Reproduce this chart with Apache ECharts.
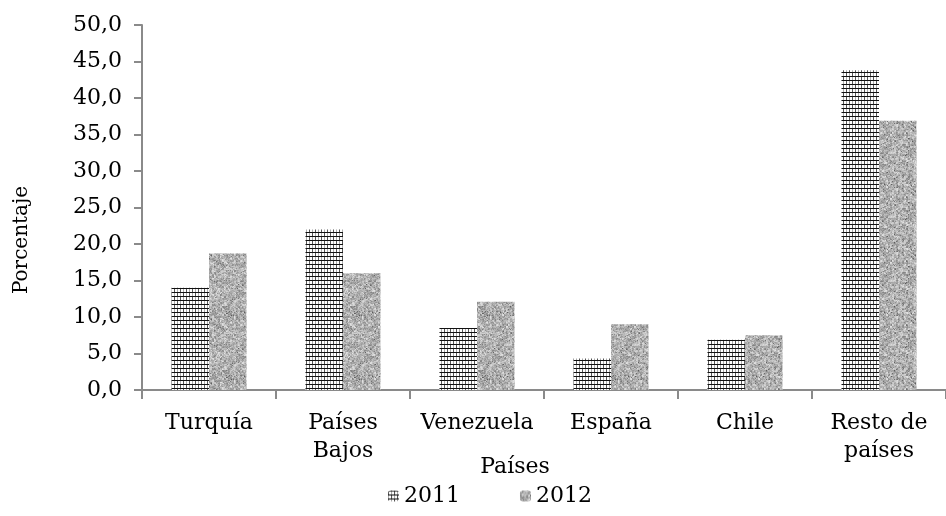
<!DOCTYPE html>
<html><head><meta charset="utf-8">
<script src="https://cdn.jsdelivr.net/npm/echarts@6/dist/echarts.min.js"></script>
<style>html,body{margin:0;padding:0;background:#fff}#c{width:946px;height:516px}</style>
</head><body><div id="c"></div>
<script>
const categories = ['Turquía', 'Países\nBajos', 'Venezuela', 'España', 'Chile', 'Resto de\npaíses'];
const values2011 = [14.0, 22.0, 8.5, 4.3, 6.9, 43.8];
const values2012 = [18.7, 16.0, 12.1, 9.0, 7.5, 36.9];
const yTicks = [0, 5, 10, 15, 20, 25, 30, 35, 40, 45, 50];

function brickPattern() {
  const c = document.createElement('canvas');
  c.width = 12; c.height = 8;
  const g = c.getContext('2d');
  g.fillStyle = '#fff'; g.fillRect(0, 0, 12, 8);
  g.fillStyle = '#111';
  g.fillRect(0, 0, 12, 1); g.fillRect(0, 4, 12, 1);
  g.fillStyle = '#555';
  g.fillRect(0, 1, 1, 3); g.fillRect(6, 1, 1, 3);
  g.fillRect(3, 5, 1, 3); g.fillRect(9, 5, 1, 3);
  g.fillStyle = '#aaa';
  g.fillRect(3, 1, 1, 3); g.fillRect(9, 1, 1, 3);
  g.fillRect(0, 5, 1, 3); g.fillRect(6, 5, 1, 3);
  return c;
}
function hash(i) { const x = Math.sin(i * 12.9898 + 78.233) * 43758.5453; return x - Math.floor(x); }
function noisePattern() {
  const n = 64;
  const c = document.createElement('canvas');
  c.width = n; c.height = n;
  const g = c.getContext('2d');
  const img = g.createImageData(n, n);
  for (let y = 0; y < n; y++) {
    for (let x = 0; x < n; x++) {
      const i = y * n + x;
      const b = (y >> 1) * n + (x >> 1);
      let v = 178 + (hash(b + 5000) - 0.5) * 60 + (hash(i) - 0.5) * 45;
      if (hash(i + 9999) > 0.95) v -= 45;
      v = Math.max(90, Math.min(230, v));
      img.data[i * 4] = v; img.data[i * 4 + 1] = v; img.data[i * 4 + 2] = v; img.data[i * 4 + 3] = 255;
    }
  }
  g.putImageData(img, 0, 0);
  return c;
}

const axisColor = '#8a8a8a';
const font = 'DejaVu Serif';
const chart = echarts.init(document.getElementById('c'));
chart.setOption({
  animation: false,
  backgroundColor: '#fff',
  textStyle: { fontFamily: font },
  grid: { left: 142, top: 25, width: 810, height: 365 },
  legend: {
    bottom: 4, left: 383, itemWidth: 11, itemHeight: 11, itemGap: 60,
    textStyle: { fontFamily: font, fontSize: 22, color: '#000' },
    data: ['2011', '2012']
  },
  xAxis: {
    type: 'category', data: categories,
    axisLine: { lineStyle: { color: axisColor, width: 2 } },
    axisTick: { show: true, length: 9, lineStyle: { color: axisColor, width: 2 } },
    axisLabel: { color: '#000', fontFamily: font, fontSize: 22, margin: 19, lineHeight: 28, interval: 0 }
  },
  yAxis: {
    type: 'value', min: 0, max: 50, interval: 5,
    axisLine: { show: true, lineStyle: { color: axisColor, width: 2 } },
    axisTick: { show: true, length: 8, lineStyle: { color: axisColor, width: 2 } },
    splitLine: { show: false },
    axisLabel: { color: '#000', fontFamily: font, fontSize: 22, margin: 20,
      formatter: v => yTicks.indexOf(v) >= 0 ? v.toFixed(1).replace('.', ',') : '' }
  },
  graphic: [
    { type: 'text', rotation: Math.PI / 2, x: 22, y: 240,
      style: { text: 'Porcentaje', font: '20px "DejaVu Serif"', fill: '#000', align: 'center', verticalAlign: 'middle' } },
    { type: 'text', style: { text: 'Países', font: '22px "DejaVu Serif"', fill: '#000', x: 515, y: 467, align: 'center', verticalAlign: 'middle' } }
  ],
  series: [
    { name: '2011', type: 'bar', data: values2011, barGap: '0%', barCategoryGap: '44%',
      itemStyle: { color: { image: brickPattern(), repeat: 'repeat' } } },
    { name: '2012', type: 'bar', data: values2012,
      itemStyle: { color: { image: noisePattern(), repeat: 'repeat' } } }
  ]
});
</script></body></html>
